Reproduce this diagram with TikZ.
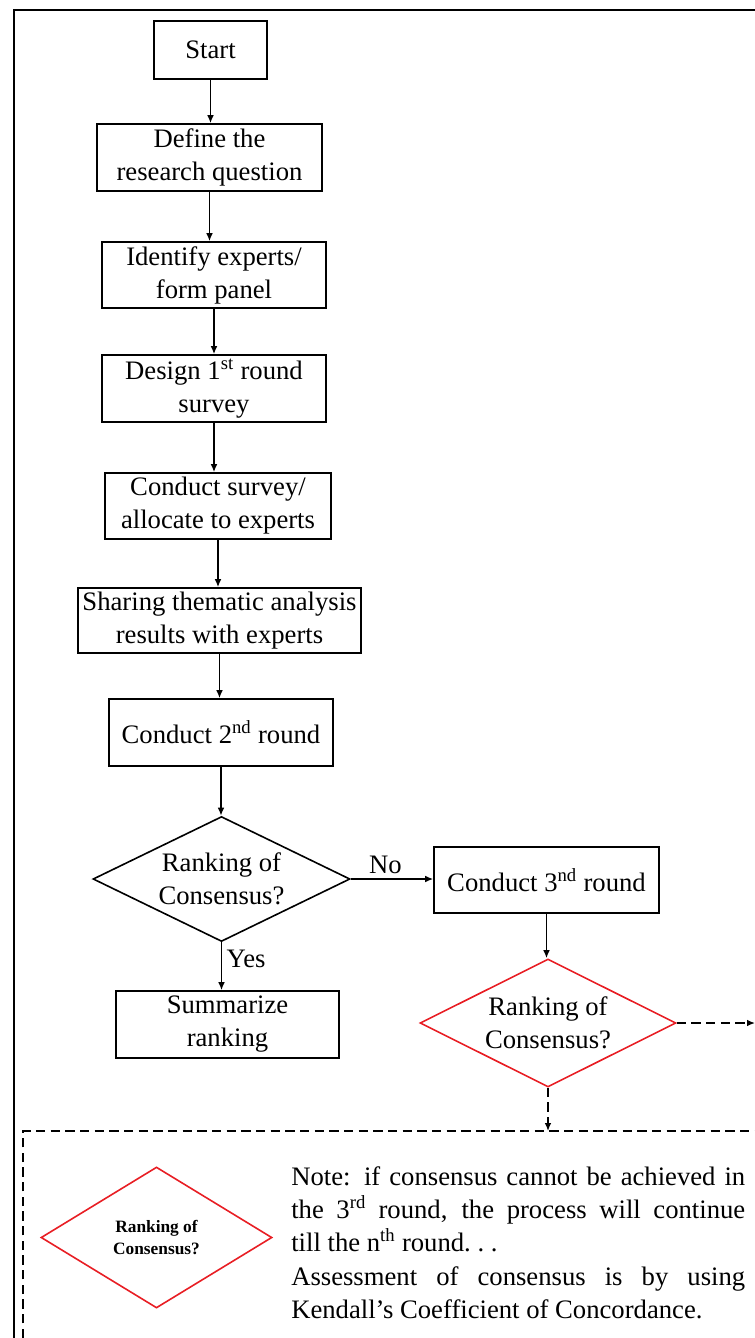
\documentclass[tikz,border=0pt]{standalone}
\usepackage{fontspec}
\setmainfont{Liberation Serif}
\usetikzlibrary{arrows.meta}
\usetikzlibrary{shapes.geometric}
\definecolor{flagred}{RGB}{232,30,36}

\begin{document}
\begin{tikzpicture}[x=0.75pt,y=-0.75pt,>={Latex[length=6pt,width=5pt]},
  box/.style={draw,line width=1.2pt,inner sep=2pt,align=center,font=\fontsize{20}{24.75}\selectfont},
  decide/.style={draw,diamond,aspect=2,inner sep=1pt,line width=1.2pt,align=center,font=\fontsize{20}{24.75}\selectfont},
  flow/.style={->,line width=1.1pt},
  dashline/.style={line width=1.1pt,dash pattern=on 7pt off 4pt}]
\useasboundingbox (0,0) rectangle (755,1338);
% frames
\draw[line width=1.5pt] (14,1338) -- (14,10) -- (755,10);
\draw[dashline] (23,1338) -- (23,1131) -- (755,1131);
% main chain
\node[box,minimum width=84.75pt,minimum height=43.5pt] (start) at (210.5,50) {Start};
\node[box,minimum width=168.75pt,minimum height=50.25pt] (define) at (209.5,157.5) {Define the\\research question};
\node[box,minimum width=168pt,minimum height=49.5pt] (identify) at (214,275) {Identify experts/\\form panel};
\node[box,minimum width=168pt,minimum height=50.25pt] (design) at (214,388.5) {Design 1\textsuperscript{st} round\\survey};
\node[box,minimum width=169.5pt,minimum height=49.5pt] (survey) at (218,506) {Conduct survey/\\allocate to experts};
\node[box,minimum width=212.25pt,minimum height=48.75pt] (sharing) at (219.5,620.5) {Sharing thematic analysis\\results with experts};
\node[box,minimum width=168pt,minimum height=50.25pt] (second) at (221,732.5) {Conduct 2\textsuperscript{nd} round};
\node[decide,minimum width=192.75pt,minimum height=93.75pt] (check) at (221.5,879) {Ranking of\\Consensus?};
\node[box,minimum width=168.75pt,minimum height=49.5pt] (third) at (546.5,880) {Conduct 3\textsuperscript{nd} round};
\node[box,minimum width=167.25pt,minimum height=50.25pt] (summary) at (227.5,1024.5) {Summarize\\ranking};
\node[decide,draw=flagred,minimum width=192pt,minimum height=96pt] (recheck) at (548,1023) {Ranking of\\Consensus?};
\coordinate (edge) at (755,1023);
\coordinate (notetop) at (548,1131);
\draw[flow] (start.south) -- (start.south |- define.north);
\draw[flow] (define.south) -- (define.south |- identify.north);
\draw[flow] (identify.south) -- (identify.south |- design.north);
\draw[flow] (design.south) -- (design.south |- survey.north);
\draw[flow] (survey.south) -- (survey.south |- sharing.north);
\draw[flow] (sharing.south) -- (sharing.south |- second.north);
\draw[flow] (second.south) -- (second.south |- check.north);
\draw[flow] (check.east) -- node[above,pos=0.42,font=\fontsize{20}{24}\selectfont]{No} (third.west |- check.east);
\draw[flow] (check.south) -- node[right,pos=0.35,font=\fontsize{20}{24}\selectfont]{Yes} (check.south |- summary.north);
\draw[flow] (third.south) -- (third.south |- recheck.north);
\draw[flow,dash pattern=on 7pt off 4pt] (recheck.east) -- (edge);
\draw[flow,dash pattern=on 7pt off 4pt] (recheck.south) -- (notetop);
% note
\node[decide,draw=flagred,font=\fontsize{13}{16.5}\selectfont\bfseries,minimum width=173.25pt,minimum height=105.75pt] (key) at (156.5,1237.5) {Ranking of\\Consensus?};
\node[anchor=north west,inner sep=0pt,text width=340.5pt,align=justify,font=\fontsize{20}{25}\selectfont] (note) at (291,1166)
  {Note: if consensus cannot be achieved in\linebreak the 3\textsuperscript{rd} round, the process will continue\linebreak till the n\textsuperscript{th} round.\ .\ .\\
   Assessment of consensus is by using\linebreak Kendall’s Coefficient of Concordance.};
\end{tikzpicture}
\end{document}
